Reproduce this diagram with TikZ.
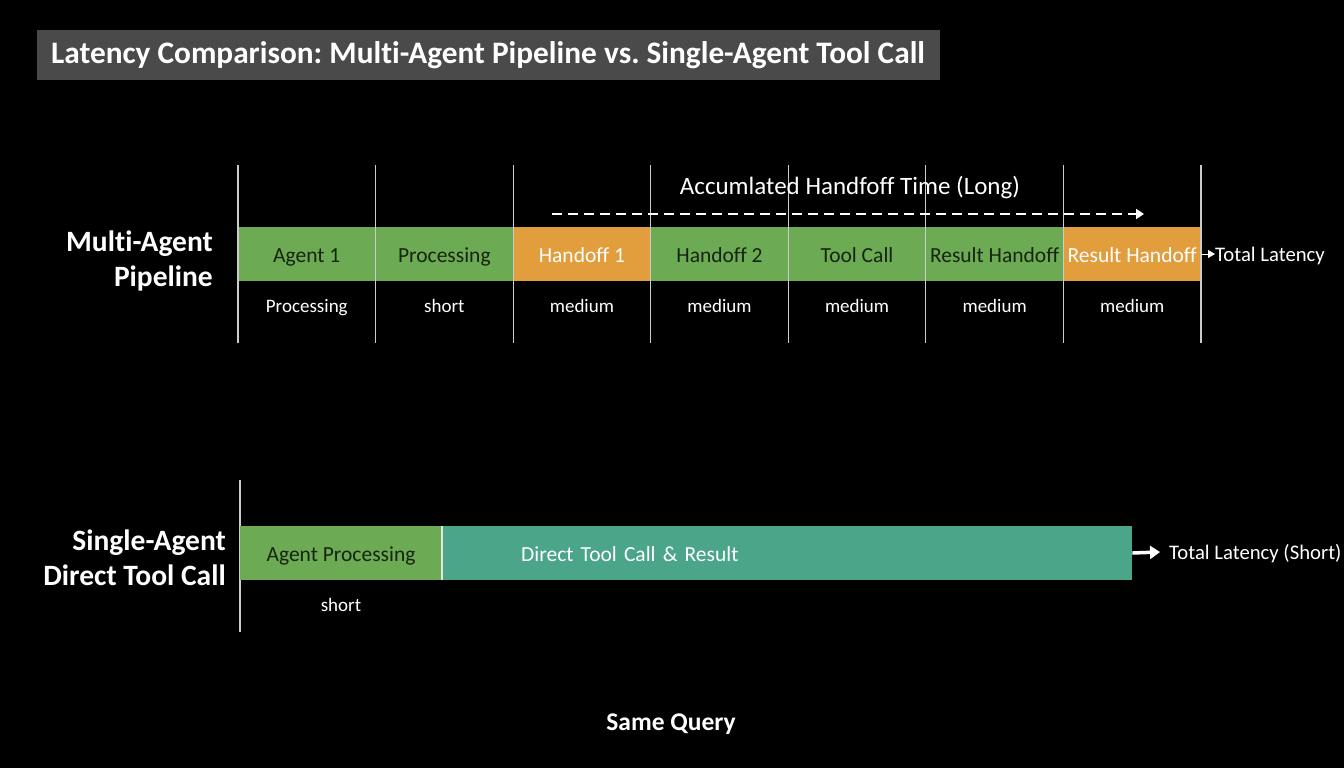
\documentclass[tikz,border=0pt]{standalone}
\usepackage{fontspec}
\setmainfont{Carlito}[Ligatures=NoCommon, RawFeature={-calt;-clig;-dlig}]
\frenchspacing
\usetikzlibrary{arrows.meta}
\definecolor{bargreen}{RGB}{108,170,84}
\definecolor{barorange}{RGB}{226,157,60}
\definecolor{barteal}{RGB}{74,165,137}
\definecolor{titlegray}{RGB}{74,74,74}
\definecolor{darktext}{RGB}{22,36,16}
\tikzset{
  blk/.style={minimum height=54, inner sep=0, text height=21, text depth=5, text=darktext, font=\fontsize{21.5}{25}\selectfont},
  sub/.style={text=white, inner sep=0, text height=18, text depth=4, font=\fontsize{19}{23}\selectfont},
  tick/.style={white!80!black, line width=1.1},
  side/.style={text=white, align=right, inner sep=0, font=\bfseries\fontsize{29.5}{35}\selectfont},
}
\begin{document}
\begin{tikzpicture}[x=1pt,y=-1pt,>={Triangle[length=8,width=10]}, line join=round]
\def\xa{238} \def\w{137.57} % left edge, block width
\fill[black] (0,0) rectangle (1344,768);
\useasboundingbox (0,0) rectangle (1344,768);
% title
\node[fill=titlegray, anchor=west, inner xsep=14, minimum height=50, text=white, font=\bfseries\fontsize{31.3}{35}\selectfont] (title) at (37,55) {\makebox[875pt][l]{Latency Comparison: Multi-Agent Pipeline vs. Single-Agent Tool Call}};
% multi-agent pipeline
\node[side, anchor=east] (multi) at (213,261) {Multi-Agent\\Pipeline};
\foreach \name/\txt/\sub/\col/\tc [count=\i from 0] in {ma1/Agent 1/Processing/bargreen/darktext, ma2/Processing/short/bargreen/darktext, ma3/Handoff 1/medium/barorange/white, ma4/Handoff 2/medium/bargreen/darktext, ma5/Tool Call/medium/bargreen/darktext, ma6/Result Handoff/medium/bargreen/darktext, ma7/Result Handoff/medium/barorange/white}{
  \node[blk, fill=\col, text=\tc, minimum width=\w] (\name) at ({\xa+(\i+0.5)*\w},254) {\txt};
  \node[sub] (\name s) at ({\xa+(\i+0.5)*\w},305) {\sub};
}
\foreach \i in {0,...,7}
  \draw[tick] ({\xa+\i*\w},165) -- ({\xa+\i*\w},343);
\node[text=white, inner sep=0, font=\fontsize{25}{29}\selectfont] (acc) at (850,188) {Accumlated Handfoff Time (Long)};
\coordinate (hs) at (552,214);
\coordinate (he) at (1144,214);
\draw[->, white, line width=2, dash pattern=on 10 off 6] (hs) -- (he);
\node[sub, anchor=west, font=\fontsize{20.7}{25}\selectfont] (tot) at (1215,254) {Total Latency};
\draw[-{Triangle[length=7,width=8]}, white, line width=0.8] (ma7.east) -- (tot.west);
% single-agent direct tool call
\node[side, anchor=east] (single) at (226,558) {Single-Agent\\Direct Tool Call};
\draw[tick] (240,480) -- (240,632);
\node[blk, fill=bargreen, minimum width=202] (sa1) at (341,553) {Agent Processing};
\node[blk, fill=barteal, text=white, anchor=west, text width=689, align=left] (sa2) at (443,553) {\hspace*{78pt}Direct Tool Call \& Result};
\draw[white!90!black, line width=1.5] (sa1.north east) -- (sa1.south east);
\node[sub] (sas) at (341,604) {short};
\node[sub, anchor=west, font=\fontsize{20.7}{25}\selectfont] (stot) at (1169,552) {Total Latency (Short)};
\draw[-{Triangle[length=10,width=13]}, white, line width=3.5] (sa2.east) -- ([xshift=-9]stot.west);
\node[text=white, inner sep=0, font=\bfseries\fontsize{25.5}{29}\selectfont] (query) at (671,724) {Same Query};
\end{tikzpicture}
\end{document}
